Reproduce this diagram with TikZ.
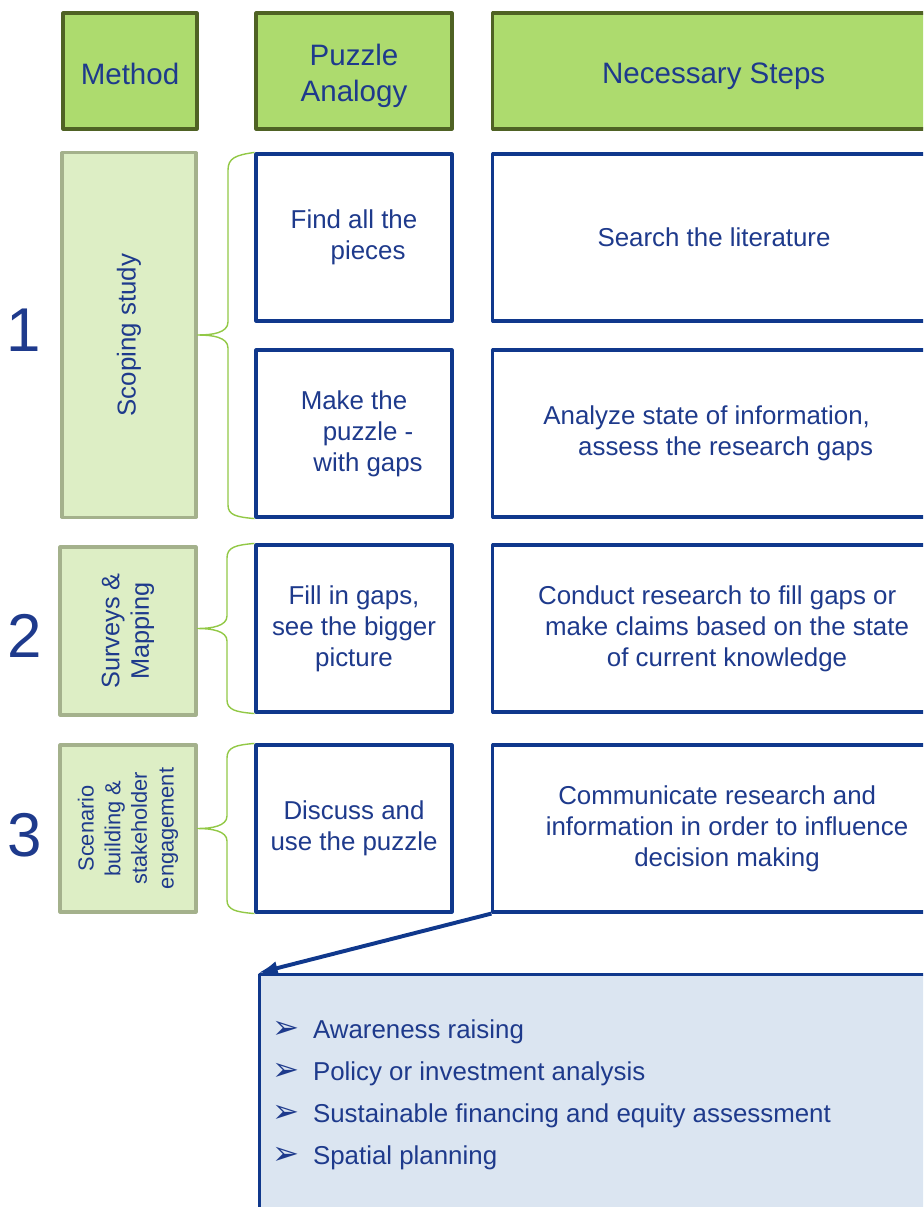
\documentclass[tikz,border=0pt]{standalone}
\usepackage{fontspec}
\setmainfont{Liberation Sans}
\newfontfamily\dejavu{DejaVu Sans}
\usetikzlibrary{positioning,arrows.meta}
\definecolor{textblue}{RGB}{30,58,140}
\definecolor{boxblue}{RGB}{16,56,140}
\definecolor{headfill}{RGB}{173,219,110}
\definecolor{headline}{RGB}{79,98,36}
\definecolor{methfill}{RGB}{221,238,197}
\definecolor{methline}{RGB}{164,177,140}
\definecolor{bracegreen}{RGB}{146,200,70}
\definecolor{listfill}{RGB}{219,229,241}
\newcommand{\bul}{\makebox[29pt][l]{\dejavu\fontsize{23}{23}\selectfont ➢}}
\newcommand{\headdrop}[2][4pt]{\raisebox{-#1}[\height][\depth]{#2}}
\tikzset{
  headbox/.style={draw=headline,fill=headfill,line width=2.2pt,text=textblue,align=center,
    font=\fontsize{21}{25.5}\selectfont,inner sep=0pt,minimum height=2.9cm},
  methbox/.style={draw=methline,fill=methfill,line width=2.2pt,inner sep=0pt},
  vtext/.style={rotate=90,text=textblue,align=center,inner sep=0pt},
  pzbox/.style={draw=boxblue,fill=white,line width=2.2pt,text=textblue,align=center,
    font=\fontsize{18.4}{22}\selectfont,inner sep=0pt,minimum width=4.9cm,minimum height=4.175cm},
  stepbox/.style={pzbox,minimum width=11.35cm},
  bracket/.style={draw=bracegreen,line width=1pt},
  bignum/.style={text=textblue,font=\fontsize{44}{44}\selectfont,inner sep=0pt},
  pointer/.style={draw=boxblue,line width=2.8pt,-{Latex[length=14pt,width=10pt]}}
}
\begin{document}
\begin{tikzpicture}[x=0.025cm,y=-0.025cm,line join=round]
  \useasboundingbox (0,0) rectangle (923,1207);
  \clip (0,0) rectangle (923,1207);
  \node[headbox,minimum width=3.35cm] (hmeth) at (130,71) {\headdrop[2pt]{Method}};
  \node[headbox,minimum width=4.9cm] (hpuz) at (354,71) {\headdrop{\begin{tabular}{@{}c@{}}Puzzle\\Analogy\end{tabular}}};
  \node[headbox,minimum width=11.35cm] (hstep) at (720,71) {\headdrop{Necessary Steps}\hspace*{9pt}};
  \node[methbox,minimum width=3.35cm,minimum height=9.1cm] (m1) at (129,335) {};
  \node[methbox,minimum width=3.4cm,minimum height=4.2cm] (m2) at (128,631) {};
  \node[methbox,minimum width=3.4cm,minimum height=4.175cm] (m3) at (128,828.5) {};
  \node[vtext,font=\fontsize{18.4}{22}\selectfont] (m1txt) at (m1) {Scoping study};
  \node[vtext,font=\fontsize{18}{21}\selectfont] (m2txt) at (m2) {Surveys \&\\Mapping};
  \node[vtext,font=\fontsize{15.5}{19}\selectfont] (m3txt) at (m3) {Scenario\\building \&\\stakeholder\\engagement};
  \node[bignum] (n1) at (24,330) {1};
  \node[bignum] (n2) at (25,636) {2};
  \node[bignum] (n3) at (25,835) {3};
  \node[pzbox] (pz1a) at (354,237.5) {Find all the\\\hspace*{20pt}pieces};
  \node[pzbox] (pz1b) at (354,433.5) {Make the\\\hspace*{20pt}puzzle -\\\hspace*{20pt}with gaps};
  \node[pzbox] (pz2) at (354,628.5) {Fill in gaps,\\see the bigger\\picture};
  \node[pzbox] (pz3) at (354,828.5) {Discuss and\\use the puzzle};
  \node[stepbox] (s1a) at (720,237.5) {Search the literature\hspace*{8.5pt}};
  \node[stepbox] (s1b) at (720,433.5) {Analyze state of information,\hspace*{19pt}\\\hspace*{8pt}assess the research gaps};
  \node[stepbox] (s2) at (720,628.5) {Conduct research to fill gaps or\hspace*{4pt}\\\hspace*{10pt}make claims based on the state\\\hspace*{10pt}of current knowledge};
  \node[stepbox] (s3) at (720,828.5) {Communicate research and\hspace*{4pt}\\\hspace*{10pt}information in order to influence\\\hspace*{10pt}decision making};
  \draw[bracket] (pz1a.north west) .. controls (236,155) and (228,158) .. (228,170) -- (228,322)
    .. controls (228,333) and (212,335) .. (m1.east) .. controls (212,335) and (228,337) .. (228,348)
    -- (228,505) .. controls (228,515) and (236,517) .. (pz1b.south west);
  \draw[bracket] (pz2.north west) .. controls (236,545) and (227,547) .. (227,558) -- (227,616)
    .. controls (227,626) and (212,628.5) .. (m2.east |- pz2.west) .. controls (212,628.5) and (227,631) .. (227,641)
    -- (227,700) .. controls (227,710) and (236,712) .. (pz2.south west);
  \draw[bracket] (pz3.north west) .. controls (236,745) and (227,747) .. (227,758) -- (227,816)
    .. controls (227,826) and (212,828.5) .. (m3.east |- pz3.west) .. controls (212,828.5) and (227,831) .. (227,841)
    -- (227,900) .. controls (227,910) and (236,912) .. (pz3.south west);
  \node[draw=boxblue,fill=listfill,line width=2.2pt,minimum width=17.55cm,minimum height=6.675cm,
    anchor=north west,inner sep=0pt] (out) at (258,973) {};
  \draw[pointer] (s3.south west) -- (out.north west);
  \node[anchor=west,align=left,text=textblue,inner sep=0pt,font=\fontsize{18.4}{30}\selectfont] (outlist) at (272,1095)
    {\bul Awareness raising\\\bul Policy or investment analysis\\\bul Sustainable financing and equity assessment\\\bul Spatial planning};
\end{tikzpicture}
\end{document}
